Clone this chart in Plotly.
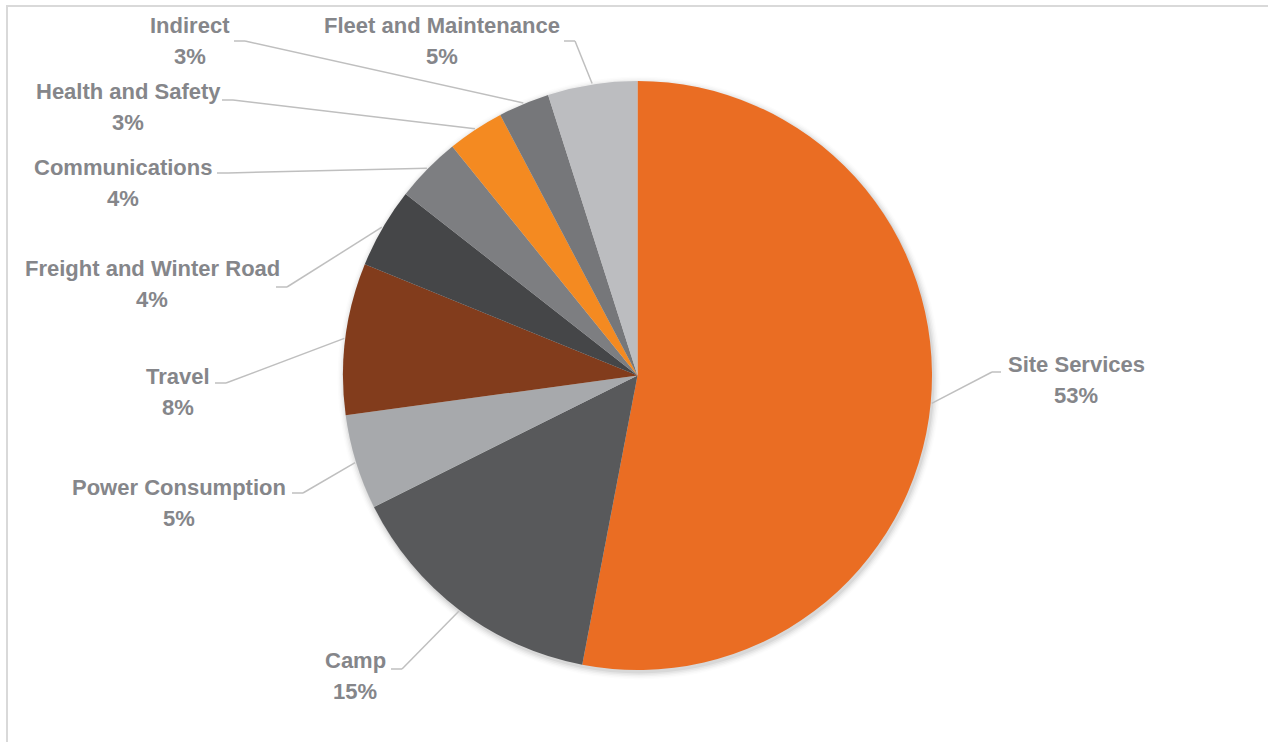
import math
import plotly.graph_objects as go

# Cost breakdown (share of total), clockwise from 12 o'clock
categories = [
    "Site Services", "Camp", "Power Consumption", "Travel",
    "Freight and Winter Road", "Communications", "Health and Safety",
    "Indirect", "Fleet and Maintenance",
]
shares = [52.9, 14.6, 5.2, 8.3, 4.4, 3.6, 3.1, 2.8, 4.9]

colors = ["#EA6D23", "#58595B", "#A7A9AC", "#823C1C", "#454648",
          "#7D7E81", "#F48A21", "#76777A", "#BCBDC0"]

# Label block centres and leader-line elbows, in page pixels
label_pos = [(1076, 380), (355, 676), (179, 503), (178, 392), (152, 284),
             (123, 183), (128, 107), (190, 41), (442, 41)]
elbow_pos = [(992, 372), (402, 669), (303, 493), (226, 383), (287, 287),
             (228, 173), (233, 100), (245, 41), (575, 41)]

W, H = 1268, 742
CX, CY, R = 637.5, 375.5, 294.5
TEXT_COLOR = "#85868A"
LEADER_COLOR = "#BFBFBF"
FONT = "Liberation Sans, Arial, sans-serif"
FONT_SIZE = 22
LINE_GAP = 15.5  # half the distance between the name line and the percent line


def px(x):
    return x / W


def py(y):
    return 1 - y / H


fig = go.Figure()
fig.add_trace(go.Pie(
    labels=categories,
    values=shares,
    sort=False,
    direction="clockwise",
    rotation=0,
    marker=dict(colors=colors, line=dict(width=0)),
    textinfo="none",
    hoverinfo="label+percent",
    showlegend=False,
    domain=dict(x=[px(CX - R), px(CX + R)], y=[py(CY + R), py(CY - R)]),
))

shapes = []

# soft drop shadow behind the pie
for i, alpha in enumerate([0.05, 0.04, 0.03, 0.02, 0.012]):
    rr = R + 1 + i * 1.5
    ox, oy = 1.5, 2.5
    shapes.append(dict(
        type="circle", xref="paper", yref="paper", layer="below",
        x0=px(CX + ox - rr), x1=px(CX + ox + rr),
        y0=py(CY + oy + rr), y1=py(CY + oy - rr),
        fillcolor=f"rgba(0,0,0,{alpha})", line=dict(width=0),
    ))

# chart frame
shapes.append(dict(
    type="rect", xref="paper", yref="paper",
    x0=px(7), x1=px(W + 20), y0=py(H + 20), y1=py(6),
    line=dict(color="#D9D9D9", width=2), fillcolor="rgba(0,0,0,0)",
))

total = sum(shares)
annotations = []
start = 0.0
for name, val, (lx, ly), (ex, ey) in zip(categories, shares, label_pos, elbow_pos):
    sweep = val / total * 360.0
    mid = math.radians(start + sweep / 2)
    start += sweep
    # point on the pie rim at the slice's mid angle
    sx = CX + (R + 1) * math.sin(mid)
    sy = CY - (R + 1) * math.cos(mid)
    # short horizontal run towards the label
    hx = ex + (9 if lx > ex else -11)
    shapes.append(dict(type="line", xref="paper", yref="paper",
                       x0=px(sx), y0=py(sy), x1=px(ex), y1=py(ey),
                       line=dict(color=LEADER_COLOR, width=1.5)))
    shapes.append(dict(type="line", xref="paper", yref="paper",
                       x0=px(ex), y0=py(ey), x1=px(hx), y1=py(ey),
                       line=dict(color=LEADER_COLOR, width=1.5)))
    pct = round(val / total * 100)
    for text, dy in ((name, -LINE_GAP), (f"{pct}%", LINE_GAP)):
        annotations.append(dict(
            x=px(lx), y=py(ly + dy), xref="paper", yref="paper",
            text=f"<b>{text}</b>",
            showarrow=False, align="center",
            xanchor="center", yanchor="middle",
            font=dict(family=FONT, size=FONT_SIZE, color=TEXT_COLOR),
        ))

fig.update_layout(
    width=W, height=H,
    margin=dict(l=0, r=0, t=0, b=0),
    paper_bgcolor="white",
    plot_bgcolor="white",
    shapes=shapes,
    annotations=annotations,
)

fig.write_html("out.html")
